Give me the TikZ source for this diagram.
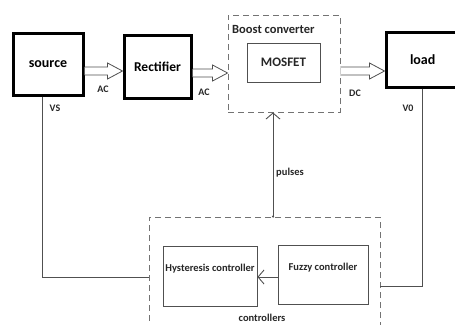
\documentclass[tikz,border=0pt]{standalone}
\usepackage{fontspec}
\setmainfont{Carlito}
\usetikzlibrary{arrows.meta,calc}
\definecolor{ln}{HTML}{505050}
\tikzset{
  x=1pt,y=-1pt,
  thickbox/.style={draw=black,line width=3pt,inner sep=0pt,font=\bfseries\fontsize{14}{16}\selectfont},
  thinbox/.style={draw=ln,line width=0.9pt,inner sep=0pt},
  dbox/.style={draw=ln!80,line width=0.9pt,dash pattern=on 6pt off 4pt},
  hol/.style={draw=ln,line width=0.8pt,fill=white},
  wire/.style={draw=ln,line width=0.9pt},
  lbl/.style={font=\bfseries\fontsize{10}{12}\selectfont,text=black!85,inner sep=0pt},
}
\newcommand\hollowarrow[3]{%
  \path[hol] let \p1=(#1.east), \p2=(#2.west), \p3=(0,#3) in
    (\x1,\y3+4pt) -- (\x2-15pt,\y3+4pt) -- (\x2-15pt,\y3+8pt) -- (\x2,\y3)
    -- (\x2-15pt,\y3-8pt) -- (\x2-15pt,\y3-4pt) -- (\x1,\y3-4pt);}
\begin{document}
\begin{tikzpicture}
\useasboundingbox (0,0) rectangle (455,324);
\clip (0,0) rectangle (455,324);
% boxes
\node[thickbox,minimum width=70,minimum height=62] (source) at (48,64) {source};
\node[thickbox,minimum width=67,minimum height=63,font=\bfseries\fontsize{13.5}{16}\selectfont] (rect) at (157.5,66.5) {Rectifier};
\node[thickbox,minimum width=90,minimum height=55,text width=70,align=left] (load) at (431,59.5) {\hspace*{14pt}load};
\node[dbox,minimum width=112,minimum height=97,inner sep=0pt] (boost) at (284,63.5) {};
\node[anchor=north west,inner sep=0pt,font=\bfseries\fontsize{12.5}{14}\selectfont,text=black!85] (boostlbl) at (232,25) {Boost converter};
\node[thinbox,minimum width=73,minimum height=39,font=\bfseries\fontsize{13}{15}\selectfont,text=black!85] (mos) at (283.5,62.5) {MOSFET};
\node[dbox,minimum width=231,minimum height=130,inner sep=0pt] (ctrl) at (264.5,282) {};
\node[thinbox,minimum width=94,minimum height=60,text height=7pt,text depth=16pt,font=\bfseries\fontsize{10.5}{12}\selectfont,text=black!85] (hyst) at (210,276) {Hysteresis controller};
\node[thinbox,minimum width=90,minimum height=59,text height=7pt,text depth=16pt,font=\bfseries\fontsize{10.5}{12}\selectfont,text=black!85] (fuzzy) at (323,274.5) {Fuzzy controller};
\node[lbl,font=\bfseries\fontsize{10.5}{12}\selectfont] (ctrllbl) at (262,318) {controllers};
% hollow arrows
\hollowarrow{source}{rect}{71}
\hollowarrow{rect}{boost}{73}
\hollowarrow{boost}{load}{71}
% labels
\node[lbl] (ac1) at (103,89) {AC};
\node[lbl] (ac2) at (204,92) {AC};
\node[lbl] (dc) at (355,93) {DC};
\node[lbl] (vs) at (55,108) {VS};
\node[lbl] (vo) at (408,108) {V0};
\node[lbl,font=\bfseries\fontsize{10.5}{12}\selectfont] (pul) at (290,173) {pulses};
% wires
\coordinate (vsx) at (42,0);
\coordinate (vsy) at (0,277);
\draw[wire] (source.south -| vsx) -- (vsx |- vsy) -- (ctrl.west |- vsy);
\coordinate (vox) at (422,0);
\coordinate (voy) at (0,286);
\draw[wire] (load.south -| vox) -- (vox |- voy) -- (ctrl.east |- voy);
\coordinate (px) at (273,0);
\draw[wire,-{Straight Barb[length=6pt,width=14pt,line width=0.9pt]}] (ctrl.north -| px) -- (boost.south -| px);
\fill[ln] (ctrl.north -| px) circle (1.2pt);
\draw[wire,-{Straight Barb[length=6pt,width=14pt,line width=0.9pt]}] (fuzzy.west |- 0,277) -- (hyst.east |- 0,277);
\end{tikzpicture}
\end{document}
